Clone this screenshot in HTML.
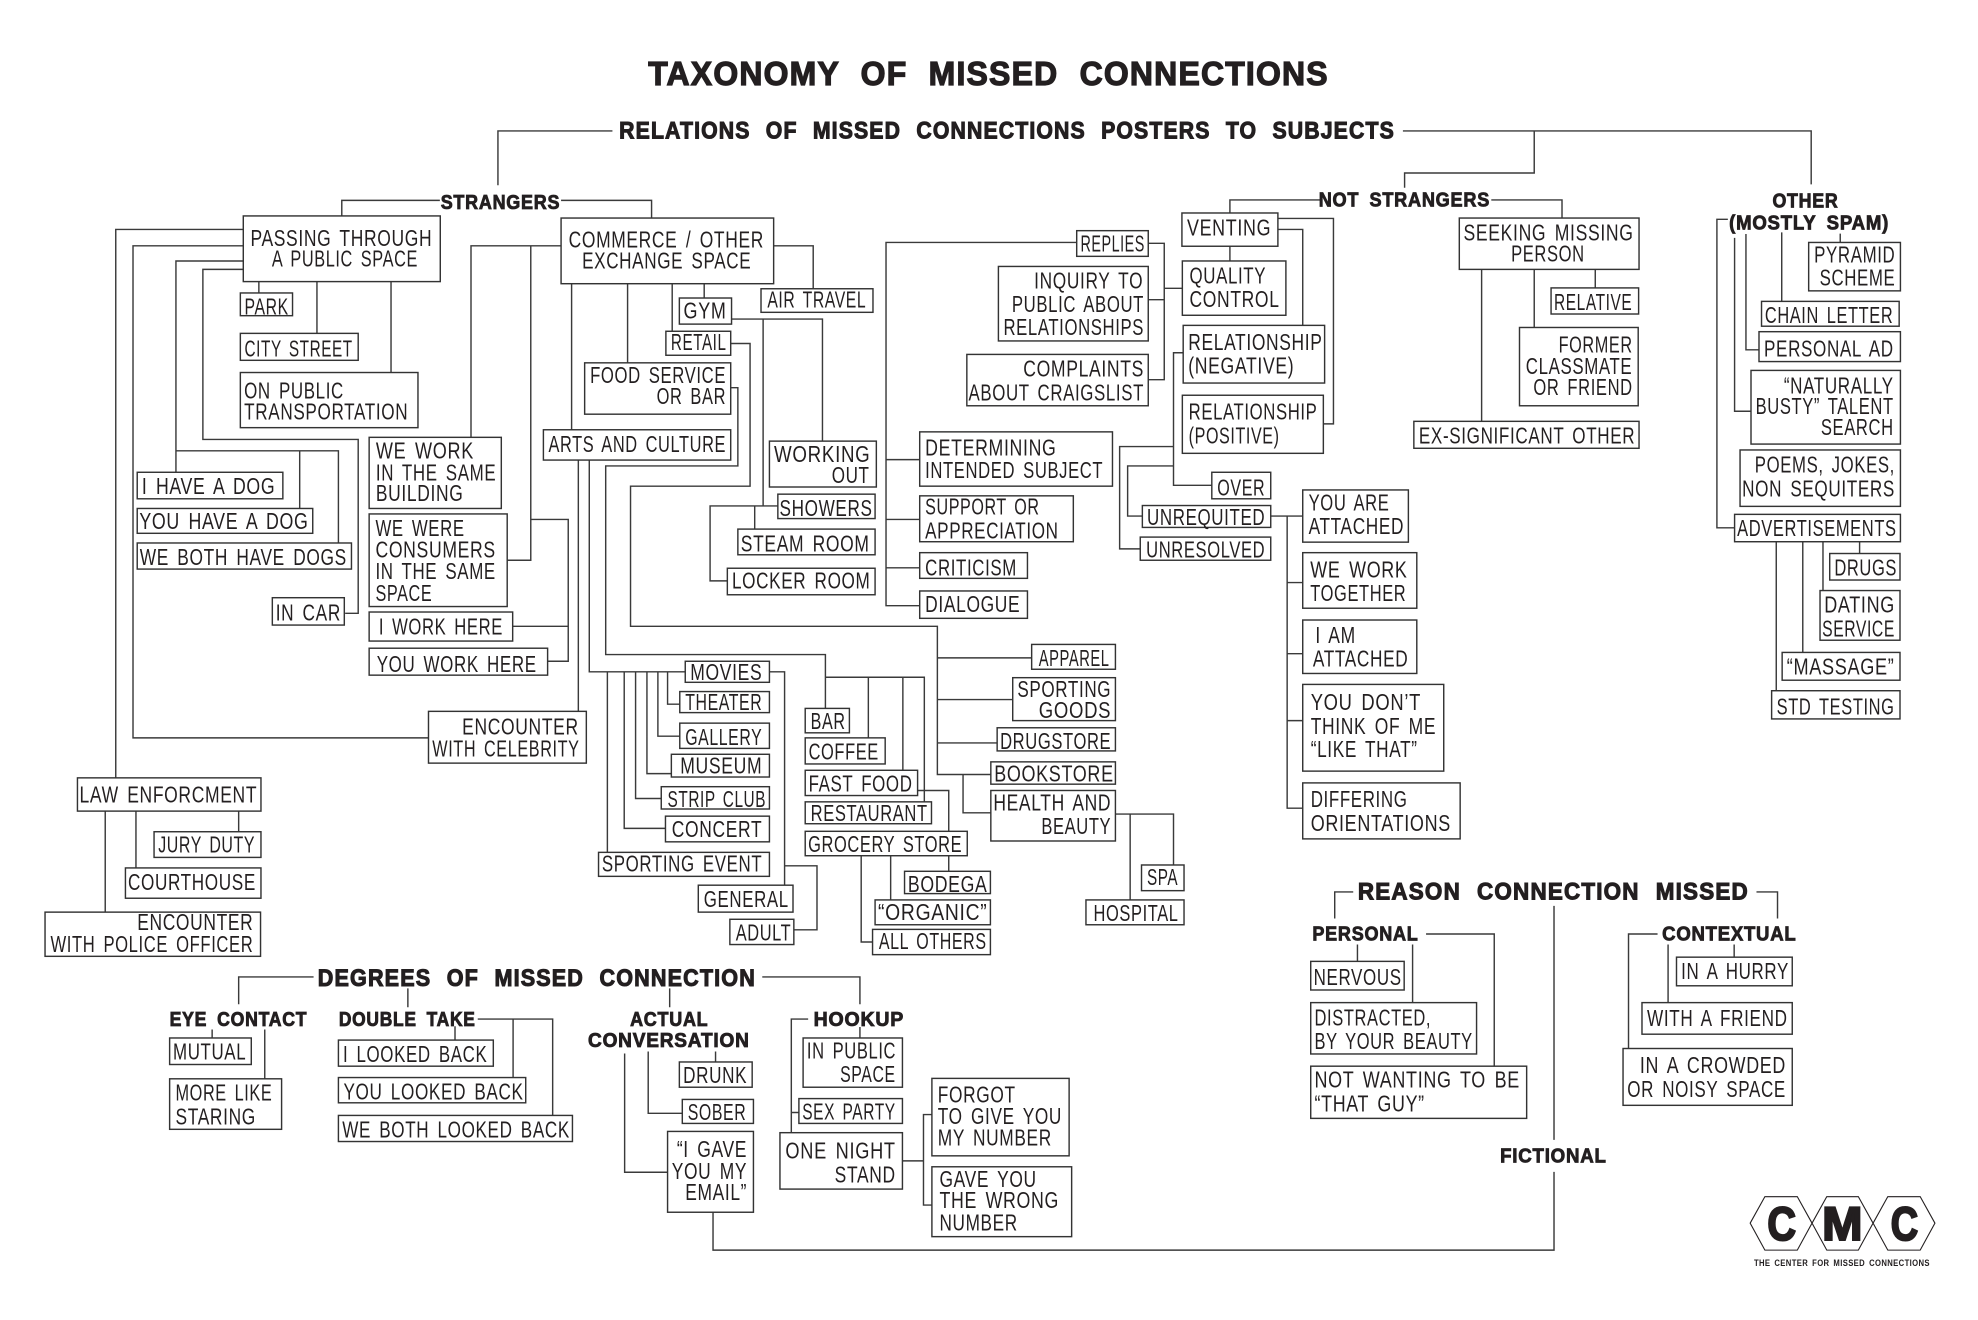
<!DOCTYPE html>
<html><head><meta charset="utf-8"><title>Taxonomy of Missed Connections</title>
<style>
html,body{margin:0;padding:0;background:#fff}
svg{display:block}
path{fill:none;stroke:#3a3a3a;stroke-width:3.4}
rect{fill:#fff;stroke:#333;stroke-width:3.4}
text{font-family:"Liberation Sans",sans-serif;font-size:54px;fill:#231f20;letter-spacing:2px;word-spacing:9px;transform:translateY(2px)}
.b{font-weight:bold;stroke:#231f20;stroke-width:2;font-size:48px;letter-spacing:2px;word-spacing:12px}
.h{font-weight:bold;stroke:#231f20;stroke-width:2.5;font-size:57px;letter-spacing:3px;word-spacing:22px}
.t{font-weight:bold;stroke:#231f20;stroke-width:3;font-size:80px;letter-spacing:3px;word-spacing:28px}
.l{font-weight:bold;stroke:#231f20;stroke-width:5;font-size:112px;letter-spacing:0;word-spacing:0}
.s{font-weight:bold;font-size:21px;letter-spacing:1px;word-spacing:4px}
polygon{fill:none;stroke:#231f20;stroke-width:2.6}
</style></head><body>
<svg xmlns="http://www.w3.org/2000/svg" width="1978" height="1320" viewBox="0 0 4699.3 3136">
<rect x="0" y="0" width="4700" height="3136" style="fill:#fff;stroke:none"/>

<!-- connectors: global -->
<path d="M1183 440V311H1455M812 512V476H1045M1333 476H1548V517M578 545H275V1848M578 584H316V1753H1018M578 620H418V1122M418 1071H804V1290M712 1071V1208M578 640H482V1044H851V1457H820M615 669V696M753 669V792M929 669V885M1333 584H1119V1039M1261 584V1331H1206M1261 1234H1350V1571H1301M1218 1488H1350M1358 674V1021M1491 674V862M1597 674V787M1673 674V708M1736 816H1782V1155H1498V1488H2227V1840H2354M1736 921H1753V1107H1439V1555H1961V1683M1961 1609H2196V1905M2063 1609V1753M2145 1609V1830M1374 1093V1690M1400 1093V1596H1628M1443 1596V2025M1483 1596V1968H1581M1510 1596V1897H1571M1537 1596V1838H1595M1563 1596V1749H1615M1586 1596V1673H1615"/>
<path transform="translate(1568 0)" d="M270 584H364V686M170 758H386V1048M245 758V1202M280 1202H119V1380H160M225 1202V1257M990 576H537V1439H617M537 1092H617M537 1234H617M537 1349H617M1160 578H1198V902H1160M1160 712H1198M1198 685H1241M1354 585V620M1354 506V475H1568M1468 519H1600V1007H1576M1468 545H1527V773M1243 838H1220V1153H1311M1220 1061H1092V1304H1141M1220 1107H1111V1226H1146M1451 1226H1527M1490 1226V1920H1527M1490 1384H1527M1490 1553H1527M1490 1712H1527"/>
<path transform="translate(3133 0)" d="M200 311H1170V438M512 311V411H204V446M410 475H578V518M657 640V684M512 640V778M387 640V1001M972 521H946V1254H988M988 565V977H1027M1015 556V831H1046M1100 552V716M1239 555V576M1285 1287V1315M1198 1287V1403M1150 1287V1550M1087 1287V1641"/>
<path transform="translate(0 1568)" d="M567 359V408M323 359V494M250 359V599M745 753H567V818M969 780V825M504 878V898M629 878V995M1135 853H1313V1082M1219 853V992M1081 870V903M1540 930V1077H1621M1484 935V1217H1586"/>
<path transform="translate(1568 1568)" d="M260 28H296V535M296 489H373V641H318M612 310H686V407M686 465V502M548 465V570M478 465V670H505M659 -5H883M659 94H838M659 197H801M720 272V363H786M1082 366H1220V487M1117 366V570M23 780V825M243 753H475V818M352 853H312V1123M475 872V898M132 930V955M126 1312V1402H2124V1216M312 1075H330M576 1190H626M646 1080H626V1295H646"/>
<path transform="translate(3133 1568)" d="M82 551H38V614M1040 551H1090V614M559 584V1140M255 651H417V965M223 676V814M92 676V716M805 651H736V922M830 676V814M987 676V706"/>

<!-- title -->
<text class="t" x="1540" y="200" textLength="1617" lengthAdjust="spacingAndGlyphs">TAXONOMY OF MISSED CONNECTIONS</text>
<text class="h" x="1471" y="327" textLength="1843" lengthAdjust="spacingAndGlyphs">RELATIONS OF MISSED CONNECTIONS POSTERS TO SUBJECTS</text>

<!-- group 1 -->
<text class="b" x="1047" y="494" textLength="284" lengthAdjust="spacingAndGlyphs">STRANGERS</text>
<rect x="578" y="513" width="468" height="156"/>
<text x="595" y="582" textLength="432" lengthAdjust="spacingAndGlyphs">PASSING THROUGH</text>
<text x="646" y="631" textLength="347" lengthAdjust="spacingAndGlyphs">A PUBLIC SPACE</text>
<rect x="1333" y="518" width="505" height="156"/>
<text x="1351" y="586" textLength="464" lengthAdjust="spacingAndGlyphs">COMMERCE / OTHER</text>
<text x="1383" y="636" textLength="402" lengthAdjust="spacingAndGlyphs">EXCHANGE SPACE</text>
<rect x="571" y="696" width="124" height="54"/>
<text x="581" y="745" textLength="105" lengthAdjust="spacingAndGlyphs">PARK</text>
<rect x="571" y="792" width="280" height="64"/>
<text x="581" y="845" textLength="257" lengthAdjust="spacingAndGlyphs">CITY STREET</text>
<rect x="571" y="885" width="422" height="131"/>
<text x="580" y="945" textLength="237" lengthAdjust="spacingAndGlyphs">ON PUBLIC</text>
<text x="580" y="995" textLength="390" lengthAdjust="spacingAndGlyphs">TRANSPORTATION</text>
<rect x="877" y="1039" width="314" height="169"/>
<text x="893" y="1087" textLength="233" lengthAdjust="spacingAndGlyphs">WE WORK</text>
<text x="893" y="1139" textLength="286" lengthAdjust="spacingAndGlyphs">IN THE SAME</text>
<text x="893" y="1188" textLength="208" lengthAdjust="spacingAndGlyphs">BUILDING</text>
<rect x="877" y="1221" width="328" height="220"/>
<text x="892" y="1271" textLength="212" lengthAdjust="spacingAndGlyphs">WE WERE</text>
<text x="892" y="1323" textLength="286" lengthAdjust="spacingAndGlyphs">CONSUMERS</text>
<text x="892" y="1374" textLength="286" lengthAdjust="spacingAndGlyphs">IN THE SAME</text>
<text x="892" y="1426" textLength="135" lengthAdjust="spacingAndGlyphs">SPACE</text>
<rect x="877" y="1454" width="341" height="69"/>
<text x="900" y="1506" textLength="295" lengthAdjust="spacingAndGlyphs">I WORK HERE</text>
<rect x="877" y="1540" width="424" height="64"/>
<text x="895" y="1594" textLength="380" lengthAdjust="spacingAndGlyphs">YOU WORK HERE</text>
<rect x="326" y="1122" width="346" height="63"/>
<text x="337" y="1172" textLength="317" lengthAdjust="spacingAndGlyphs">I HAVE A DOG</text>
<rect x="326" y="1208" width="417" height="59"/>
<text x="331" y="1255" textLength="402" lengthAdjust="spacingAndGlyphs">YOU HAVE A DOG</text>
<rect x="326" y="1290" width="509" height="62"/>
<text x="332" y="1340" textLength="492" lengthAdjust="spacingAndGlyphs">WE BOTH HAVE DOGS</text>
<rect x="647" y="1420" width="171" height="65"/>
<text x="655" y="1472" textLength="155" lengthAdjust="spacingAndGlyphs">IN CAR</text>
<rect x="1389" y="862" width="347" height="122"/>
<text x="1402" y="908" textLength="323" lengthAdjust="spacingAndGlyphs">FOOD SERVICE</text>
<text x="1560" y="958" textLength="165" lengthAdjust="spacingAndGlyphs">OR BAR</text>
<rect x="1291" y="1021" width="445" height="72"/>
<text x="1303" y="1072" textLength="422" lengthAdjust="spacingAndGlyphs">ARTS AND CULTURE</text>
<rect x="1422" y="2025" width="406" height="57"/>
<text x="1430" y="2069" textLength="381" lengthAdjust="spacingAndGlyphs">SPORTING EVENT</text>

<!-- group 2 -->
<g transform="translate(1568 0)">
<rect x="46" y="708" width="124" height="62"/>
<text x="56" y="755" textLength="102" lengthAdjust="spacingAndGlyphs">GYM</text>
<rect x="14" y="787" width="154" height="57"/>
<text x="26" y="830" textLength="132" lengthAdjust="spacingAndGlyphs">RETAIL</text>
<rect x="240" y="686" width="266" height="56"/>
<text x="255" y="728" textLength="235" lengthAdjust="spacingAndGlyphs">AIR TRAVEL</text>
<rect x="260" y="1048" width="254" height="109"/>
<text x="271" y="1096" textLength="229" lengthAdjust="spacingAndGlyphs">WORKING</text>
<text x="408" y="1146" textLength="90" lengthAdjust="spacingAndGlyphs">OUT</text>
<rect x="280" y="1174" width="231" height="58"/>
<text x="284" y="1224" textLength="221" lengthAdjust="spacingAndGlyphs">SHOWERS</text>
<rect x="185" y="1257" width="326" height="61"/>
<text x="192" y="1308" textLength="306" lengthAdjust="spacingAndGlyphs">STEAM ROOM</text>
<rect x="160" y="1350" width="351" height="63"/>
<text x="171" y="1396" textLength="329" lengthAdjust="spacingAndGlyphs">LOCKER ROOM</text>
<rect x="990" y="548" width="170" height="61"/>
<text x="999" y="595" textLength="153" lengthAdjust="spacingAndGlyphs">REPLIES</text>
<rect x="804" y="633" width="356" height="177"/>
<text x="889" y="683" textLength="259" lengthAdjust="spacingAndGlyphs">INQUIRY TO</text>
<text x="836" y="739" textLength="314" lengthAdjust="spacingAndGlyphs">PUBLIC ABOUT</text>
<text x="816" y="794" textLength="334" lengthAdjust="spacingAndGlyphs">RELATIONSHIPS</text>
<rect x="729" y="842" width="431" height="122"/>
<text x="863" y="892" textLength="287" lengthAdjust="spacingAndGlyphs">COMPLAINTS</text>
<text x="733" y="949" textLength="417" lengthAdjust="spacingAndGlyphs">ABOUT CRAIGSLIST</text>
<rect x="1240" y="506" width="228" height="79"/>
<text x="1252" y="558" textLength="200" lengthAdjust="spacingAndGlyphs">VENTING</text>
<rect x="1241" y="620" width="246" height="129"/>
<text x="1258" y="671" textLength="182" lengthAdjust="spacingAndGlyphs">QUALITY</text>
<text x="1258" y="727" textLength="214" lengthAdjust="spacingAndGlyphs">CONTROL</text>
<rect x="1243" y="773" width="336" height="137"/>
<text x="1255" y="829" textLength="319" lengthAdjust="spacingAndGlyphs">RELATIONSHIP</text>
<text x="1255" y="885" textLength="252" lengthAdjust="spacingAndGlyphs">(NEGATIVE)</text>
<rect x="1241" y="939" width="335" height="138"/>
<text x="1256" y="995" textLength="306" lengthAdjust="spacingAndGlyphs">RELATIONSHIP</text>
<text x="1256" y="1052" textLength="216" lengthAdjust="spacingAndGlyphs">(POSITIVE)</text>
<rect x="1311" y="1122" width="140" height="63"/>
<text x="1324" y="1175" textLength="114" lengthAdjust="spacingAndGlyphs">OVER</text>
<rect x="1146" y="1201" width="305" height="52"/>
<text x="1157" y="1245" textLength="281" lengthAdjust="spacingAndGlyphs">UNREQUITED</text>
<rect x="1141" y="1276" width="310" height="55"/>
<text x="1155" y="1322" textLength="283" lengthAdjust="spacingAndGlyphs">UNRESOLVED</text>
<rect x="1527" y="1164" width="251" height="124"/>
<text x="1541" y="1211" textLength="192" lengthAdjust="spacingAndGlyphs">YOU ARE</text>
<text x="1541" y="1267" textLength="227" lengthAdjust="spacingAndGlyphs">ATTACHED</text>
<rect x="1527" y="1313" width="271" height="132"/>
<text x="1545" y="1370" textLength="231" lengthAdjust="spacingAndGlyphs">WE WORK</text>
<text x="1545" y="1426" textLength="228" lengthAdjust="spacingAndGlyphs">TOGETHER</text>
<rect x="1527" y="1473" width="271" height="127"/>
<text x="1557" y="1526" textLength="96" lengthAdjust="spacingAndGlyphs">I AM</text>
<text x="1551" y="1582" textLength="227" lengthAdjust="spacingAndGlyphs">ATTACHED</text>
<rect x="1527" y="1626" width="335" height="206"/>
<text x="1546" y="1685" textLength="262" lengthAdjust="spacingAndGlyphs">YOU DON’T</text>
<text x="1546" y="1742" textLength="298" lengthAdjust="spacingAndGlyphs">THINK OF ME</text>
<text x="1546" y="1797" textLength="254" lengthAdjust="spacingAndGlyphs">“LIKE THAT”</text>
<rect x="1527" y="1860" width="374" height="133"/>
<text x="1546" y="1915" textLength="230" lengthAdjust="spacingAndGlyphs">DIFFERING</text>
<text x="1546" y="1972" textLength="333" lengthAdjust="spacingAndGlyphs">ORIENTATIONS</text>
<rect x="617" y="1026" width="458" height="129"/>
<text x="630" y="1080" textLength="312" lengthAdjust="spacingAndGlyphs">DETERMINING</text>
<text x="630" y="1134" textLength="423" lengthAdjust="spacingAndGlyphs">INTENDED SUBJECT</text>
<rect x="617" y="1178" width="365" height="109"/>
<text x="630" y="1220" textLength="272" lengthAdjust="spacingAndGlyphs">SUPPORT OR</text>
<text x="630" y="1277" textLength="317" lengthAdjust="spacingAndGlyphs">APPRECIATION</text>
<rect x="617" y="1313" width="256" height="61"/>
<text x="630" y="1365" textLength="218" lengthAdjust="spacingAndGlyphs">CRITICISM</text>
<rect x="617" y="1404" width="256" height="65"/>
<text x="630" y="1452" textLength="226" lengthAdjust="spacingAndGlyphs">DIALOGUE</text>
</g>

<!-- group 3 -->
<g transform="translate(3133 0)">
<text class="b" x="0" y="489" textLength="407" lengthAdjust="spacingAndGlyphs">NOT STRANGERS</text>
<rect x="334" y="518" width="427" height="122"/>
<text x="344" y="569" textLength="404" lengthAdjust="spacingAndGlyphs">SEEKING MISSING</text>
<text x="457" y="619" textLength="175" lengthAdjust="spacingAndGlyphs">PERSON</text>
<rect x="552" y="684" width="208" height="62"/>
<text x="559" y="735" textLength="186" lengthAdjust="spacingAndGlyphs">RELATIVE</text>
<rect x="477" y="778" width="282" height="186"/>
<text x="570" y="835" textLength="176" lengthAdjust="spacingAndGlyphs">FORMER</text>
<text x="492" y="887" textLength="253" lengthAdjust="spacingAndGlyphs">CLASSMATE</text>
<text x="510" y="937" textLength="236" lengthAdjust="spacingAndGlyphs">OR FRIEND</text>
<rect x="226" y="1001" width="535" height="64"/>
<text x="238" y="1052" textLength="514" lengthAdjust="spacingAndGlyphs">EX-SIGNIFICANT OTHER</text>
<text class="b" x="1078" y="491" textLength="157" lengthAdjust="spacingAndGlyphs">OTHER</text>
<text class="b" x="975" y="543" textLength="380" lengthAdjust="spacingAndGlyphs">(MOSTLY SPAM)</text>
<rect x="1164" y="576" width="218" height="115"/>
<text x="1177" y="622" textLength="193" lengthAdjust="spacingAndGlyphs">PYRAMID</text>
<text x="1190" y="676" textLength="180" lengthAdjust="spacingAndGlyphs">SCHEME</text>
<rect x="1052" y="716" width="327" height="59"/>
<text x="1060" y="765" textLength="305" lengthAdjust="spacingAndGlyphs">CHAIN LETTER</text>
<rect x="1046" y="788" width="336" height="71"/>
<text x="1058" y="845" textLength="308" lengthAdjust="spacingAndGlyphs">PERSONAL AD</text>
<rect x="1027" y="880" width="355" height="175"/>
<text x="1105" y="933" textLength="261" lengthAdjust="spacingAndGlyphs">“NATURALLY</text>
<text x="1038" y="982" textLength="328" lengthAdjust="spacingAndGlyphs">BUSTY” TALENT</text>
<text x="1193" y="1032" textLength="173" lengthAdjust="spacingAndGlyphs">SEARCH</text>
<rect x="1001" y="1069" width="381" height="134"/>
<text x="1036" y="1120" textLength="333" lengthAdjust="spacingAndGlyphs">POEMS, JOKES,</text>
<text x="1006" y="1177" textLength="363" lengthAdjust="spacingAndGlyphs">NON SEQUITERS</text>
<rect x="988" y="1222" width="394" height="65"/>
<text x="994" y="1271" textLength="379" lengthAdjust="spacingAndGlyphs">ADVERTISEMENTS</text>
<rect x="1214" y="1315" width="167" height="63"/>
<text x="1225" y="1365" textLength="149" lengthAdjust="spacingAndGlyphs">DRUGS</text>
<rect x="1191" y="1403" width="190" height="118"/>
<text x="1201" y="1453" textLength="168" lengthAdjust="spacingAndGlyphs">DATING</text>
<text x="1196" y="1510" textLength="173" lengthAdjust="spacingAndGlyphs">SERVICE</text>
<rect x="1101" y="1550" width="280" height="66"/>
<text x="1112" y="1600" textLength="256" lengthAdjust="spacingAndGlyphs">“MASSAGE”</text>
<rect x="1076" y="1641" width="305" height="67"/>
<text x="1088" y="1695" textLength="280" lengthAdjust="spacingAndGlyphs">STD TESTING</text>
</g>

<!-- group 4 -->
<g transform="translate(0 1568)">
<rect x="1018" y="122" width="375" height="123"/>
<text x="1098" y="175" textLength="277" lengthAdjust="spacingAndGlyphs">ENCOUNTER</text>
<text x="1027" y="227" textLength="350" lengthAdjust="spacingAndGlyphs">WITH CELEBRITY</text>
<rect x="184" y="280" width="436" height="79"/>
<text x="189" y="336" textLength="422" lengthAdjust="spacingAndGlyphs">LAW ENFORCMENT</text>
<rect x="366" y="408" width="254" height="61"/>
<text x="376" y="455" textLength="230" lengthAdjust="spacingAndGlyphs">JURY DUTY</text>
<rect x="298" y="494" width="322" height="72"/>
<text x="304" y="545" textLength="304" lengthAdjust="spacingAndGlyphs">COURTHOUSE</text>
<rect x="107" y="599" width="512" height="105"/>
<text x="326" y="640" textLength="276" lengthAdjust="spacingAndGlyphs">ENCOUNTER</text>
<text x="120" y="692" textLength="482" lengthAdjust="spacingAndGlyphs">WITH POLICE OFFICER</text>
<text class="h" x="755" y="773" textLength="1041" lengthAdjust="spacingAndGlyphs">DEGREES OF MISSED CONNECTION</text>
<text class="b" x="403" y="867" textLength="327" lengthAdjust="spacingAndGlyphs">EYE CONTACT</text>
<text class="b" x="805" y="867" textLength="325" lengthAdjust="spacingAndGlyphs">DOUBLE TAKE</text>
<rect x="403" y="898" width="194" height="63"/>
<text x="411" y="947" textLength="174" lengthAdjust="spacingAndGlyphs">MUTUAL</text>
<rect x="403" y="995" width="266" height="120"/>
<text x="417" y="1045" textLength="230" lengthAdjust="spacingAndGlyphs">MORE LIKE</text>
<text x="417" y="1102" textLength="191" lengthAdjust="spacingAndGlyphs">STARING</text>
<rect x="804" y="903" width="368" height="62"/>
<text x="815" y="953" textLength="343" lengthAdjust="spacingAndGlyphs">I LOOKED BACK</text>
<rect x="804" y="992" width="445" height="60"/>
<text x="816" y="1042" textLength="428" lengthAdjust="spacingAndGlyphs">YOU LOOKED BACK</text>
<rect x="804" y="1082" width="556" height="62"/>
<text x="813" y="1132" textLength="541" lengthAdjust="spacingAndGlyphs">WE BOTH LOOKED BACK</text>
<text class="b" x="1497" y="867" textLength="186" lengthAdjust="spacingAndGlyphs">ACTUAL</text>
<text class="b" x="1397" y="917" textLength="384" lengthAdjust="spacingAndGlyphs">CONVERSATION</text>
</g>

<!-- group 5 -->
<g transform="translate(1568 1568)">
<rect x="60" y="3" width="200" height="50"/>
<text x="72" y="45" textLength="171" lengthAdjust="spacingAndGlyphs">MOVIES</text>
<rect x="47" y="75" width="213" height="50"/>
<text x="60" y="117" textLength="183" lengthAdjust="spacingAndGlyphs">THEATER</text>
<rect x="47" y="150" width="213" height="60"/>
<text x="60" y="200" textLength="183" lengthAdjust="spacingAndGlyphs">GALLERY</text>
<rect x="27" y="224" width="233" height="54"/>
<text x="48" y="268" textLength="195" lengthAdjust="spacingAndGlyphs">MUSEUM</text>
<rect x="3" y="301" width="257" height="53"/>
<text x="18" y="347" textLength="234" lengthAdjust="spacingAndGlyphs">STRIP CLUB</text>
<rect x="13" y="371" width="247" height="61"/>
<text x="28" y="418" textLength="215" lengthAdjust="spacingAndGlyphs">CONCERT</text>
<rect x="91" y="535" width="225" height="64"/>
<text x="104" y="585" textLength="202" lengthAdjust="spacingAndGlyphs">GENERAL</text>
<rect x="166" y="616" width="152" height="60"/>
<text x="180" y="665" textLength="132" lengthAdjust="spacingAndGlyphs">ADULT</text>
<rect x="345" y="115" width="105" height="58"/>
<text x="358" y="162" textLength="83" lengthAdjust="spacingAndGlyphs">BAR</text>
<rect x="345" y="185" width="190" height="62"/>
<text x="353" y="235" textLength="167" lengthAdjust="spacingAndGlyphs">COFFEE</text>
<rect x="345" y="262" width="267" height="60"/>
<text x="353" y="311" textLength="247" lengthAdjust="spacingAndGlyphs">FAST FOOD</text>
<rect x="345" y="337" width="300" height="52"/>
<text x="358" y="380" textLength="278" lengthAdjust="spacingAndGlyphs">RESTAURANT</text>
<rect x="345" y="407" width="385" height="58"/>
<text x="352" y="454" textLength="366" lengthAdjust="spacingAndGlyphs">GROCERY STORE</text>
<rect x="581" y="502" width="204" height="53"/>
<text x="589" y="549" textLength="189" lengthAdjust="spacingAndGlyphs">BODEGA</text>
<rect x="511" y="570" width="274" height="59"/>
<text x="518" y="616" textLength="260" lengthAdjust="spacingAndGlyphs">“ORGANIC”</text>
<rect x="505" y="640" width="280" height="60"/>
<text x="520" y="685" textLength="256" lengthAdjust="spacingAndGlyphs">ALL OTHERS</text>
<rect x="883" y="-37" width="199" height="59"/>
<text x="900" y="12" textLength="168" lengthAdjust="spacingAndGlyphs">APPAREL</text>
<rect x="838" y="42" width="244" height="102"/>
<text x="849" y="86" textLength="223" lengthAdjust="spacingAndGlyphs">SPORTING</text>
<text x="900" y="136" textLength="172" lengthAdjust="spacingAndGlyphs">GOODS</text>
<rect x="801" y="161" width="281" height="55"/>
<text x="808" y="209" textLength="264" lengthAdjust="spacingAndGlyphs">DRUGSTORE</text>
<rect x="786" y="242" width="296" height="53"/>
<text x="794" y="287" textLength="284" lengthAdjust="spacingAndGlyphs">BOOKSTORE</text>
<rect x="786" y="310" width="296" height="120"/>
<text x="792" y="355" textLength="280" lengthAdjust="spacingAndGlyphs">HEALTH AND</text>
<text x="906" y="412" textLength="166" lengthAdjust="spacingAndGlyphs">BEAUTY</text>
<rect x="1144" y="487" width="101" height="61"/>
<text x="1157" y="533" textLength="74" lengthAdjust="spacingAndGlyphs">SPA</text>
<rect x="1012" y="570" width="233" height="59"/>
<text x="1030" y="618" textLength="202" lengthAdjust="spacingAndGlyphs">HOSPITAL</text>
<text class="b" x="365" y="867" textLength="215" lengthAdjust="spacingAndGlyphs">HOOKUP</text>
<rect x="46" y="955" width="173" height="60"/>
<text x="55" y="1003" textLength="152" lengthAdjust="spacingAndGlyphs">DRUNK</text>
<rect x="53" y="1044" width="169" height="57"/>
<text x="66" y="1091" textLength="139" lengthAdjust="spacingAndGlyphs">SOBER</text>
<rect x="18" y="1120" width="204" height="192"/>
<text x="40" y="1179" textLength="167" lengthAdjust="spacingAndGlyphs">“I GAVE</text>
<text x="28" y="1231" textLength="179" lengthAdjust="spacingAndGlyphs">YOU MY</text>
<text x="60" y="1281" textLength="147" lengthAdjust="spacingAndGlyphs">EMAIL”</text>
<rect x="340" y="898" width="236" height="117"/>
<text x="349" y="945" textLength="212" lengthAdjust="spacingAndGlyphs">IN PUBLIC</text>
<text x="428" y="1001" textLength="132" lengthAdjust="spacingAndGlyphs">SPACE</text>
<rect x="330" y="1042" width="246" height="59"/>
<text x="338" y="1090" textLength="222" lengthAdjust="spacingAndGlyphs">SEX PARTY</text>
<rect x="285" y="1123" width="291" height="134"/>
<text x="298" y="1182" textLength="262" lengthAdjust="spacingAndGlyphs">ONE NIGHT</text>
<text x="415" y="1239" textLength="145" lengthAdjust="spacingAndGlyphs">STAND</text>
<rect x="646" y="994" width="326" height="184"/>
<text x="660" y="1049" textLength="185" lengthAdjust="spacingAndGlyphs">FORGOT</text>
<text x="660" y="1100" textLength="295" lengthAdjust="spacingAndGlyphs">TO GIVE YOU</text>
<text x="660" y="1151" textLength="271" lengthAdjust="spacingAndGlyphs">MY NUMBER</text>
<rect x="646" y="1204" width="332" height="166"/>
<text x="664" y="1250" textLength="231" lengthAdjust="spacingAndGlyphs">GAVE YOU</text>
<text x="664" y="1300" textLength="284" lengthAdjust="spacingAndGlyphs">THE WRONG</text>
<text x="664" y="1353" textLength="186" lengthAdjust="spacingAndGlyphs">NUMBER</text>
</g>

<!-- group 6 -->
<g transform="translate(3133 1568)">
<text class="h" x="93" y="567" textLength="929" lengthAdjust="spacingAndGlyphs">REASON CONNECTION MISSED</text>
<text class="b" x="-15" y="665" textLength="252" lengthAdjust="spacingAndGlyphs">PERSONAL</text>
<rect x="-19" y="716" width="222" height="68"/>
<text x="-12" y="770" textLength="209" lengthAdjust="spacingAndGlyphs">NERVOUS</text>
<rect x="-19" y="814" width="394" height="122"/>
<text x="-10" y="866" textLength="277" lengthAdjust="spacingAndGlyphs">DISTRACTED,</text>
<text x="-10" y="922" textLength="376" lengthAdjust="spacingAndGlyphs">BY YOUR BEAUTY</text>
<rect x="-19" y="965" width="513" height="124"/>
<text x="-10" y="1014" textLength="488" lengthAdjust="spacingAndGlyphs">NOT WANTING TO BE</text>
<text x="-10" y="1071" textLength="262" lengthAdjust="spacingAndGlyphs">“THAT GUY”</text>
<text class="b" x="816" y="665" textLength="319" lengthAdjust="spacingAndGlyphs">CONTEXTUAL</text>
<rect x="850" y="706" width="275" height="68"/>
<text x="861" y="756" textLength="256" lengthAdjust="spacingAndGlyphs">IN A HURRY</text>
<rect x="768" y="814" width="357" height="75"/>
<text x="780" y="867" textLength="334" lengthAdjust="spacingAndGlyphs">WITH A FRIEND</text>
<rect x="723" y="923" width="402" height="135"/>
<text x="763" y="979" textLength="347" lengthAdjust="spacingAndGlyphs">IN A CROWDED</text>
<text x="733" y="1036" textLength="377" lengthAdjust="spacingAndGlyphs">OR NOISY SPACE</text>
<text class="b" x="431" y="1192" textLength="253" lengthAdjust="spacingAndGlyphs">FICTIONAL</text>
<g transform="translate(-3 0)">
<polygon points="1028,1338 1063,1275 1140,1275 1175,1338 1140,1402 1063,1402"/>
<polygon points="1175,1338 1210,1275 1285,1275 1320,1338 1285,1402 1210,1402"/>
<polygon points="1320,1338 1355,1275 1432,1275 1467,1338 1432,1402 1355,1402"/>
<text class="l" x="1069" y="1376" textLength="68" lengthAdjust="spacingAndGlyphs">C</text>
<text class="l" x="1199" y="1376" textLength="96" lengthAdjust="spacingAndGlyphs">M</text>
<text class="l" x="1362" y="1376" textLength="65" lengthAdjust="spacingAndGlyphs">C</text>
<text class="s" x="1037" y="1438" textLength="418" lengthAdjust="spacingAndGlyphs">THE CENTER FOR MISSED CONNECTIONS</text>
</g>
</g>
</svg>
</body></html>
